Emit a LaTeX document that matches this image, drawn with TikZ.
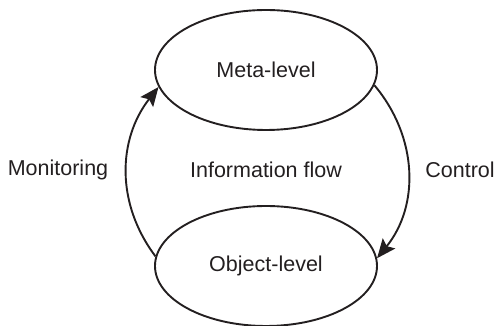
\documentclass[tikz,border=0pt]{standalone}
\usepackage{fontspec}
\setmainfont{Liberation Sans}
\usetikzlibrary{shapes.geometric,arrows.meta}
\definecolor{ink}{HTML}{231F20}
\begin{document}
\begin{tikzpicture}[x=1pt,y=1pt,
  level/.style={draw=ink, line width=1.9pt, ellipse, minimum width=222pt,
    minimum height=120pt, inner sep=0pt, text=ink, font=\fontsize{21.5}{24}\selectfont},
  lbl/.style={text=ink, inner sep=0pt, font=\fontsize{21.5}{24}\selectfont},
  flow/.style={draw=ink, line width=1.9pt,
    -{Stealth[length=19pt,width=16pt,inset=3.5pt]}}]
  \useasboundingbox (0,0) rectangle (496,326);
  \node[level] (meta) at (266,256) {Meta-level};
  \node[level] (obj) at (266,60) {Object-level};
  \node[lbl] (mon) at (58,156) {Monitoring};
  \node[lbl] (info) at (266,156) {Information flow};
  \node[lbl] (ctrl) at (460,156) {Control};
  % monitoring: object-level up to meta-level on the left
  \draw[flow] (obj.175) to[out=127,in=232] (meta.189);
  % control: meta-level down to object-level on the right
  \draw[flow] (meta.352) to[out=-50,in=51] (obj.4);
\end{tikzpicture}
\end{document}
